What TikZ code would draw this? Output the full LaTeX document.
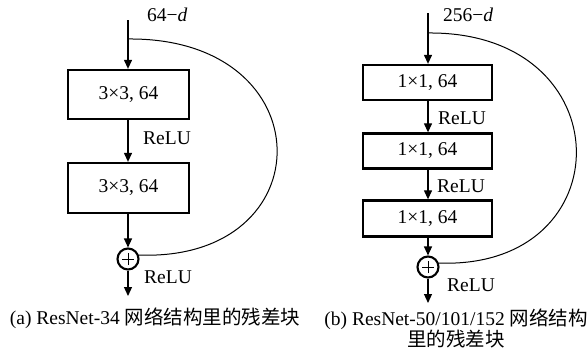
\documentclass[tikz,border=0pt]{standalone}
\usepackage{fontspec}
\setmainfont{Liberation Serif}
\newfontfamily\cjk{Noto Sans CJK SC}
\usetikzlibrary{arrows.meta}
\begin{document}
\begin{tikzpicture}[x=1pt,y=1pt,
  every node/.style={font=\fontsize{19.5}{21}\selectfont},
  blk/.style={draw,line width=2.3pt,inner sep=0pt,anchor=center},
  addnode/.style={draw,circle,line width=2.1pt,inner sep=0pt,minimum size=21pt},
  plusline/.style={line width=0.7pt},
  arr/.style={line width=1.2pt,-{Triangle[length=9pt,width=8pt]}},
  skip/.style={line width=1pt},
  lbl/.style={anchor=west,inner sep=0pt},
  captext/.style={inner sep=0pt,align=center}
]
\useasboundingbox (0,0) rectangle (588,-356);

% ---- left block (a) ----
\coordinate (a0) at (128,-20);
\coordinate (as) at (128,-39);
\node[blk,minimum width=121pt,minimum height=49pt] (a1) at (128.5,-94.5) {3×3, 64};
\node[blk,minimum width=121pt,minimum height=50pt] (a2) at (128.5,-188) {3×3, 64};
\node[addnode] (ap) at (128,-259) {};
\draw[plusline] ([xshift=-6pt]ap.center) -- ([xshift=6pt]ap.center);
\draw[plusline] ([yshift=-6pt]ap.center) -- ([yshift=6pt]ap.center);
\coordinate (ao) at (128,-296);
\node[lbl] (ad) at (147,-15) {64−\textit{d}};
\node[lbl] (ar1) at (143,-138) {ReLU};
\node[lbl] (ar2) at (144,-277) {ReLU};
\draw[arr] (a0) -- (a1.north -| a0);
\draw[arr] (a1.south -| a0) -- (a2.north -| a0);
\draw[arr] (a2.south -| a0) -- (ap.north);
\draw[arr] (ap.south) -- (ao);
\draw[skip] (as) .. controls (325,-37) and (325,-262) .. (ap.20);

% ---- right block (b) ----
\coordinate (b0) at (428,-13);
\coordinate (bs) at (428,-33);
\node[blk,minimum width=129pt,minimum height=35pt] (b1) at (427.5,-82.5) {1×1, 64};
\node[blk,minimum width=129pt,minimum height=35pt] (b2) at (427.5,-151) {1×1, 64};
\node[blk,minimum width=129pt,minimum height=36pt] (b3) at (427.5,-218.5) {1×1, 64};
\node[addnode] (bp) at (428,-267) {};
\draw[plusline] ([xshift=-6pt]bp.center) -- ([xshift=6pt]bp.center);
\draw[plusline] ([yshift=-6pt]bp.center) -- ([yshift=6pt]bp.center);
\coordinate (bo) at (428,-303);
\node[lbl] (bd) at (443,-15) {256−\textit{d}};
\node[lbl] (br1) at (438,-118) {ReLU};
\node[lbl] (br2) at (437,-186) {ReLU};
\node[lbl] (br3) at (447,-285) {ReLU};
\draw[arr] (b0) -- (b1.north -| b0);
\draw[arr] (b1.south -| b0) -- (b2.north -| b0);
\draw[arr] (b2.south -| b0) -- (b3.north -| b0);
\draw[arr] (b3.south -| b0) -- (bp.north);
\draw[arr] (bp.south) -- (bo);
\draw[skip] (bs) .. controls (624,-31) and (624,-270) .. (bp.20);

% ---- captions ----
\node[captext] (ca) at (155,-318) {(a) ResNet-34 {\cjk 网络结构里的残差块}};
\node[captext] (cb) at (456,-328) {(b) ResNet-50/101/152 {\cjk 网络结构}\\{\cjk 里的残差块}};
\end{tikzpicture}
\end{document}
